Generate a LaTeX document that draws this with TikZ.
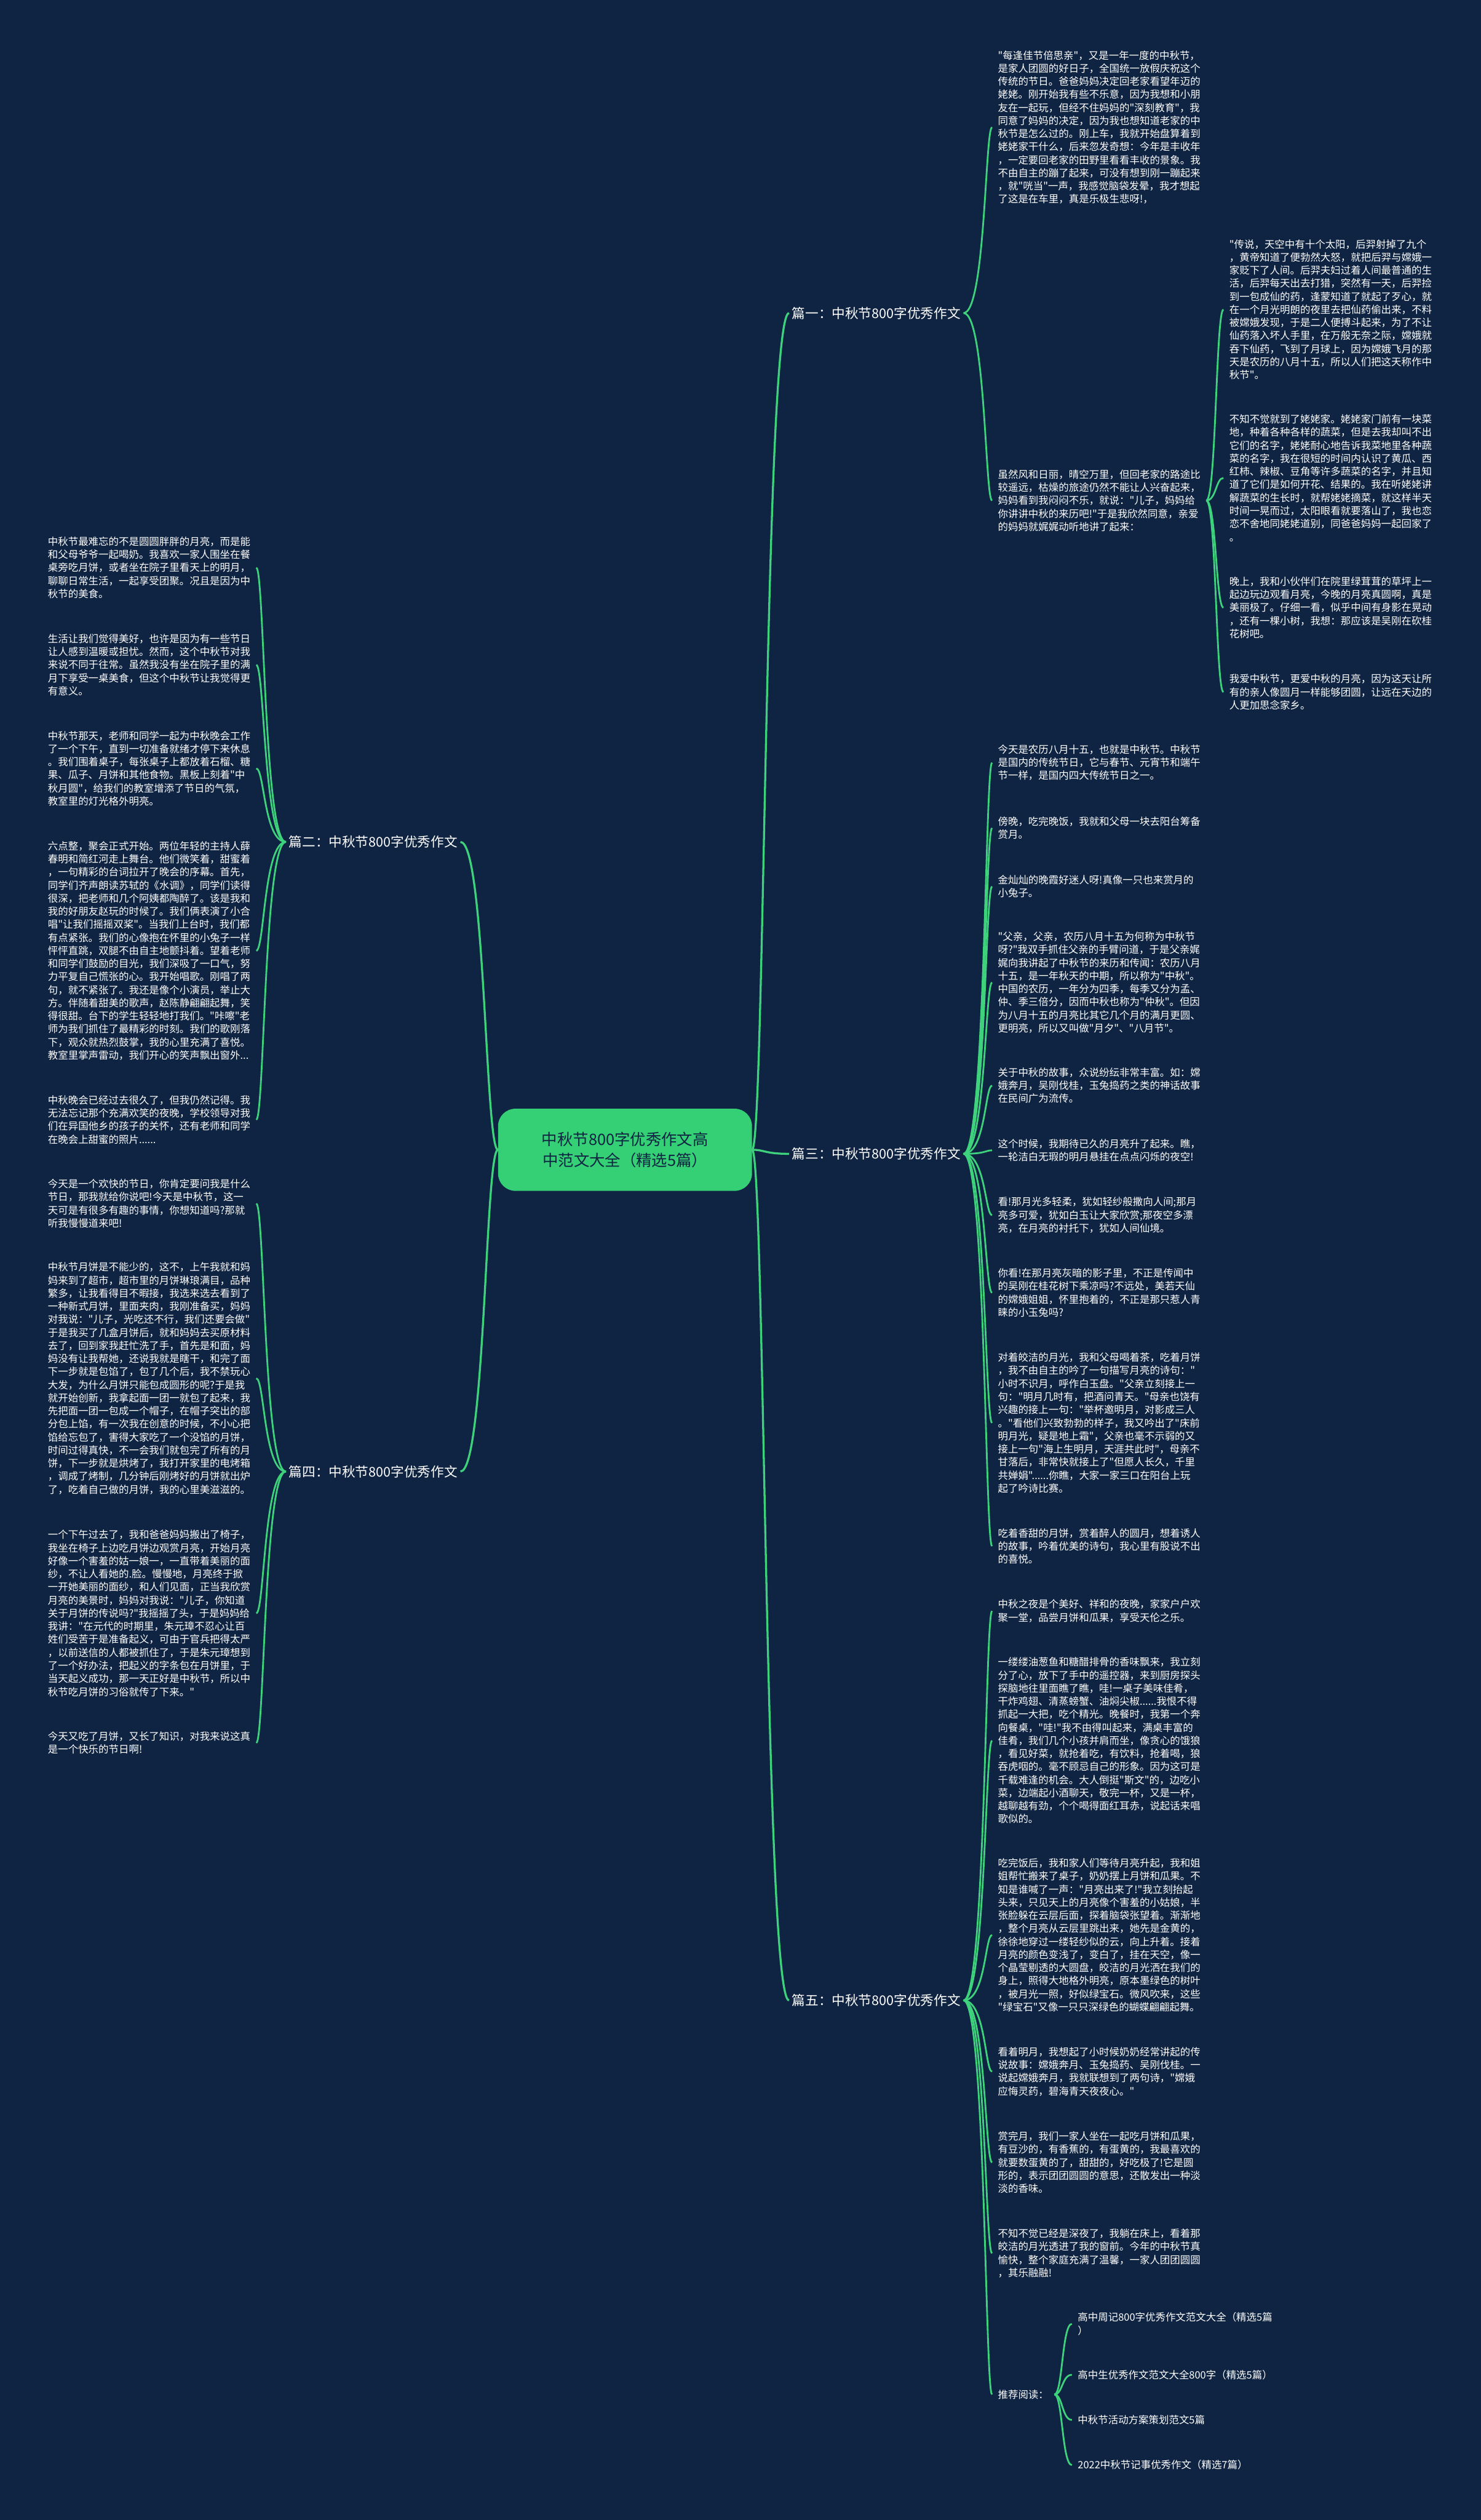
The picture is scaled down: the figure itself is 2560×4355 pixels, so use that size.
\documentclass[tikz,border=0pt]{standalone}
\usepackage{fontspec}
\newfontfamily\cjk{Noto Sans CJK SC}
\definecolor{bg}{HTML}{0F2442}
\definecolor{ln}{HTML}{3DD27B}
\definecolor{cfill}{HTML}{35CF75}
\tikzset{
  para/.style={align=left, text width=350pt, inner xsep=10pt, inner ysep=2pt, text=white, font=\cjk\fontsize{17.5}{22.6}\selectfont},
  rpara/.style={para, anchor=west},
  lpara/.style={para, anchor=east},
  lab/.style={text=white, font=\cjk\fontsize{23}{28}\selectfont, inner sep=5pt},
  small/.style={text=white, align=left, font=\cjk\fontsize{17.5}{24}\selectfont, inner xsep=10pt, inner ysep=2pt, anchor=west},
  link/.style={draw=ln, line width=3pt},
  thick link/.style={draw=ln, line width=3.5pt},
  root/.style={fill=cfill, rounded corners=30pt, text=bg, font=\cjk\fontsize{27}{36}\selectfont, align=center, minimum width=439pt, minimum height=142pt}
}
\newcommand\rconn[5][link]{\draw[#1] (#2.east) .. controls +(#4,0) and +(-#5,0) .. (#3.west);}
\newcommand\lconn[5][link]{\draw[#1] (#2.west) .. controls +(-#4,0) and +(#5,0) .. (#3.east);}
\begin{document}
\begin{tikzpicture}[x=1pt,y=-1pt]
\fill[bg] (0,0) rectangle (2560,4355);
\useasboundingbox (0,0) rectangle (2560,4355);

% root
\node[root] (root) at (1080.5,1987) {中秋节800字优秀作文高\\中范文大全（精选5篇）};

% level 1 labels
\node[lab, anchor=west] (b1) at (1364,541) {篇一：中秋节800字优秀作文};
\node[lab, anchor=east] (b2) at (796,1455) {篇二：中秋节800字优秀作文};
\node[lab, anchor=west] (b3) at (1364,1994) {篇三：中秋节800字优秀作文};
\node[lab, anchor=east] (b4) at (796,2543) {篇四：中秋节800字优秀作文};
\node[lab, anchor=west] (b5) at (1364,3457) {篇五：中秋节800字优秀作文};

\rconn[thick link]{root}{b1}{22}{42}
\rconn[thick link]{root}{b3}{22}{42}
\rconn[thick link]{root}{b5}{22}{42}
\lconn[thick link]{root}{b2}{22}{43}
\lconn[thick link]{root}{b4}{22}{43}

% ---------- branch 1
\node[rpara] (p1a) at (1715,220) {"每逢佳节倍思亲"，又是一年一度的中秋节，\\是家人团圆的好日子，全国统一放假庆祝这个\\传统的节日。爸爸妈妈决定回老家看望年迈的\\姥姥。刚开始我有些不乐意，因为我想和小朋\\友在一起玩，但经不住妈妈的"深刻教育"，我\\同意了妈妈的决定，因为我也想知道老家的中\\秋节是怎么过的。刚上车，我就开始盘算着到\\姥姥家干什么，后来忽发奇想：今年是丰收年\\，一定要回老家的田野里看看丰收的景象。我\\不由自主的蹦了起来，可没有想到刚一蹦起来\\，就"咣当"一声，我感觉脑袋发晕，我才想起\\了这是在车里，真是乐极生悲呀!，};
\node[rpara] (p1b) at (1715,865) {虽然风和日丽，晴空万里，但回老家的路途比\\较遥远，枯燥的旅途仍然不能让人兴奋起来，\\妈妈看到我闷闷不乐，就说："儿子，妈妈给\\你讲讲中秋的来历吧!"于是我欣然同意，亲爱\\的妈妈就娓娓动听地讲了起来：};
\rconn{b1}{p1a}{38}{12}
\rconn{b1}{p1b}{38}{12}

\node[rpara] (s1) at (2115,535) {"传说，天空中有十个太阳，后羿射掉了九个\\，黄帝知道了便勃然大怒，就把后羿与嫦娥一\\家贬下了人间。后羿夫妇过着人间最普通的生\\活，后羿每天出去打猎，突然有一天，后羿捡\\到一包成仙的药，逢蒙知道了就起了歹心，就\\在一个月光明朗的夜里去把仙药偷出来，不料\\被嫦娥发现，于是二人便搏斗起来，为了不让\\仙药落入坏人手里，在万般无奈之际，嫦娥就\\吞下仙药，飞到了月球上，因为嫦娥飞月的那\\天是农历的八月十五，所以人们把这天称作中\\秋节"。};
\node[rpara] (s2) at (2115,826) {不知不觉就到了姥姥家。姥姥家门前有一块菜\\地，种着各种各样的蔬菜，但是去我却叫不出\\它们的名字，姥姥耐心地告诉我菜地里各种蔬\\菜的名字，我在很短的时间内认识了黄瓜、西\\红柿、辣椒、豆角等许多蔬菜的名字，并且知\\道了它们是如何开花、结果的。我在听姥姥讲\\解蔬菜的生长时，就帮姥姥摘菜，就这样半天\\时间一晃而过，太阳眼看就要落山了，我也恋\\恋不舍地同姥姥道别，同爸爸妈妈一起回家了\\。};
\node[rpara] (s3) at (2115,1050) {晚上，我和小伙伴们在院里绿茸茸的草坪上一\\起边玩边观看月亮，今晚的月亮真圆啊，真是\\美丽极了。仔细一看，似乎中间有身影在晃动\\，还有一棵小树，我想：那应该是吴刚在砍桂\\花树吧。};
\node[rpara] (s4) at (2115,1196) {我爱中秋节，更爱中秋的月亮，因为这天让所\\有的亲人像圆月一样能够团圆，让远在天边的\\人更加思念家乡。};
\foreach \s in {s1,s2,s3,s4} {\rconn{p1b}{\s}{17}{13}}

% ---------- branch 2 (left)
\node[lpara] (l1) at (443,981) {中秋节最难忘的不是圆圆胖胖的月亮，而是能\\和父母爷爷一起喝奶。我喜欢一家人围坐在餐\\桌旁吃月饼，或者坐在院子里看天上的明月，\\聊聊日常生活，一起享受团聚。况且是因为中\\秋节的美食。};
\node[lpara] (l2) at (443,1149) {生活让我们觉得美好，也许是因为有一些节日\\让人感到温暖或担忧。然而，这个中秋节对我\\来说不同于往常。虽然我没有坐在院子里的满\\月下享受一桌美食，但这个中秋节让我觉得更\\有意义。};
\node[lpara] (l3) at (443,1328) {中秋节那天，老师和同学一起为中秋晚会工作\\了一个下午，直到一切准备就绪才停下来休息\\。我们围着桌子，每张桌子上都放着石榴、糖\\果、瓜子、月饼和其他食物。黑板上刻着"中\\秋月圆"，给我们的教室增添了节日的气氛，\\教室里的灯光格外明亮。};
\node[lpara] (l4) at (443,1643) {六点整，聚会正式开始。两位年轻的主持人薛\\春明和简红河走上舞台。他们微笑着，甜蜜着\\，一句精彩的台词拉开了晚会的序幕。首先，\\同学们齐声朗读苏轼的《水调》，同学们读得\\很深，把老师和几个阿姨都陶醉了。该是我和\\我的好朋友赵玩的时候了。我们俩表演了小合\\唱"让我们摇摇双桨"。当我们上台时，我们都\\有点紧张。我们的心像抱在怀里的小兔子一样\\怦怦直跳，双腿不由自主地颤抖着。望着老师\\和同学们鼓励的目光，我们深吸了一口气，努\\力平复自己慌张的心。我开始唱歌。刚唱了两\\句，就不紧张了。我还是像个小演员，举止大\\方。伴随着甜美的歌声，赵陈静翩翩起舞，笑\\得很甜。台下的学生轻轻地打我们。"咔嚓"老\\师为我们抓住了最精彩的时刻。我们的歌刚落\\下，观众就热烈鼓掌，我的心里充满了喜悦。\\教室里掌声雷动，我们开心的笑声飘出窗外...};
\node[lpara] (l5) at (443,1935) {中秋晚会已经过去很久了，但我仍然记得。我\\无法忘记那个充满欢笑的夜晚，学校领导对我\\们在异国他乡的孩子的关怀，还有老师和同学\\在晚会上甜蜜的照片......};
\foreach \s in {l1,l2,l3,l4,l5} {\lconn{b2}{\s}{38}{14}}

% ---------- branch 3
\node[rpara] (c1) at (1715,1318) {今天是农历八月十五，也就是中秋节。中秋节\\是国内的传统节日，它与春节、元宵节和端午\\节一样，是国内四大传统节日之一。};
\node[rpara] (c2) at (1715,1431) {傍晚，吃完晚饭，我就和父母一块去阳台筹备\\赏月。};
\node[rpara] (c3) at (1715,1532) {金灿灿的晚霞好迷人呀!真像一只也来赏月的\\小兔子。};
\node[rpara] (c4) at (1715,1698) {"父亲，父亲，农历八月十五为何称为中秋节\\呀?"我双手抓住父亲的手臂问道，于是父亲娓\\娓向我讲起了中秋节的来历和传闻：农历八月\\十五，是一年秋天的中期，所以称为"中秋"。\\中国的农历，一年分为四季，每季又分为孟、\\仲、季三倍分，因而中秋也称为"仲秋"。但因\\为八月十五的月亮比其它几个月的满月更圆、\\更明亮，所以又叫做"月夕"、"八月节"。};
\node[rpara] (c5) at (1715,1876) {关于中秋的故事，众说纷纭非常丰富。如：嫦\\娥奔月，吴刚伐桂，玉兔捣药之类的神话故事\\在民间广为流传。};
\node[rpara] (c6) at (1715,1988) {这个时候，我期待已久的月亮升了起来。瞧，\\一轮洁白无瑕的明月悬挂在点点闪烁的夜空!};
\node[rpara] (c7) at (1715,2100) {看!那月光多轻柔，犹如轻纱般撒向人间;那月\\亮多可爱，犹如白玉让大家欣赏;那夜空多漂\\亮，在月亮的衬托下，犹如人间仙境。};
\node[rpara] (c8) at (1715,2234) {你看!在那月亮灰暗的影子里，不正是传闻中\\的吴刚在桂花树下乘凉吗?不远处，美若天仙\\的嫦娥姐姐，怀里抱着的，不正是那只惹人青\\睐的小玉兔吗?};
\node[rpara] (c9) at (1715,2459) {对着皎洁的月光，我和父母喝着茶，吃着月饼\\，我不由自主的吟了一句描写月亮的诗句："\\小时不识月，呼作白玉盘。"父亲立刻接上一\\句："明月几时有，把酒问青天。"母亲也饶有\\兴趣的接上一句："举杯邀明月，对影成三人\\。"看他们兴致勃勃的样子，我又吟出了"床前\\明月光，疑是地上霜"，父亲也毫不示弱的又\\接上一句"海上生明月，天涯共此时"，母亲不\\甘落后，非常快就接上了"但愿人长久，千里\\共婵娟"......你瞧，大家一家三口在阳台上玩\\起了吟诗比赛。};
\node[rpara] (c10) at (1715,2672) {吃着香甜的月饼，赏着醉人的圆月，想着诱人\\的故事，吟着优美的诗句，我心里有股说不出\\的喜悦。};
\foreach \s in {c1,c2,c3,c4,c5,c6,c7,c8,c9,c10} {\rconn{b3}{\s}{38}{12}}

% ---------- branch 4 (left)
\node[lpara] (m1) at (443,2080) {今天是一个欢快的节日，你肯定要问我是什么\\节日，那我就给你说吧!今天是中秋节，这一\\天可是有很多有趣的事情，你想知道吗?那就\\听我慢慢道来吧!};
\node[lpara] (m2) at (443,2382) {中秋节月饼是不能少的，这不，上午我就和妈\\妈来到了超市，超市里的月饼琳琅满目，品种\\繁多，让我看得目不暇接，我选来选去看到了\\一种新式月饼，里面夹肉，我刚准备买，妈妈\\对我说："儿子，光吃还不行，我们还要会做"\\于是我买了几盒月饼后，就和妈妈去买原材料\\去了，回到家我赶忙洗了手，首先是和面，妈\\妈没有让我帮她，还说我就是瞎干，和完了面\\下一步就是包馅了，包了几个后，我不禁玩心\\大发，为什么月饼只能包成圆形的呢?于是我\\就开始创新，我拿起面一团一就包了起来，我\\先把面一团一包成一个帽子，在帽子突出的部\\分包上馅，有一次我在创意的时候，不小心把\\馅给忘包了，害得大家吃了一个没馅的月饼，\\时间过得真快，不一会我们就包完了所有的月\\饼，下一步就是烘烤了，我打开家里的电烤箱\\，调成了烤制，几分钟后刚烤好的月饼就出炉\\了，吃着自己做的月饼，我的心里美滋滋的。};
\node[lpara] (m3) at (443,2788) {一个下午过去了，我和爸爸妈妈搬出了椅子，\\我坐在椅子上边吃月饼边观赏月亮，开始月亮\\好像一个害羞的姑一娘一，一直带着美丽的面\\纱，不让人看她的.脸。慢慢地，月亮终于掀\\一开她美丽的面纱，和人们见面，正当我欣赏\\月亮的美景时，妈妈对我说："儿子，你知道\\关于月饼的传说吗?"我摇摇了头，于是妈妈给\\我讲："在元代的时期里，朱元璋不忍心让百\\姓们受苦于是准备起义，可由于官兵把得太严\\，以前送信的人都被抓住了，于是朱元璋想到\\了一个好办法，把起义的字条包在月饼里，于\\当天起义成功，那一天正好是中秋节，所以中\\秋节吃月饼的习俗就传了下来。"};
\node[lpara] (m4) at (443,3012) {今天又吃了月饼，又长了知识，对我来说这真\\是一个快乐的节日啊!};
\foreach \s in {m1,m2,m3,m4} {\lconn{b4}{\s}{38}{14}}

% ---------- branch 5
\node[rpara] (d1) at (1715,2784) {中秋之夜是个美好、祥和的夜晚，家家户户欢\\聚一堂，品尝月饼和瓜果，享受天伦之乐。};
\node[rpara] (d2) at (1715,3008) {一缕缕油葱鱼和糖醋排骨的香味飘来，我立刻\\分了心，放下了手中的遥控器，来到厨房探头\\探脑地往里面瞧了瞧，哇!一桌子美味佳肴，\\干炸鸡翅、清蒸螃蟹、油焖尖椒......我恨不得\\抓起一大把，吃个精光。晚餐时，我第一个奔\\向餐桌，"哇!"我不由得叫起来，满桌丰富的\\佳肴，我们几个小孩并肩而坐，像贪心的饿狼\\，看见好菜，就抢着吃，有饮料，抢着喝，狼\\吞虎咽的。毫不顾忌自己的形象。因为这可是\\千载难逢的机会。大人倒挺"斯文"的，边吃小\\菜，边端起小酒聊天，敬完一杯，又是一杯，\\越聊越有劲，个个喝得面红耳赤，说起话来唱\\歌似的。};
\node[rpara] (d3) at (1715,3344) {吃完饭后，我和家人们等待月亮升起，我和姐\\姐帮忙搬来了桌子，奶奶摆上月饼和瓜果。不\\知是谁喊了一声："月亮出来了!"我立刻抬起\\头来，只见天上的月亮像个害羞的小姑娘，半\\张脸躲在云层后面，探着脑袋张望着。渐渐地\\，整个月亮从云层里跳出来，她先是金黄的，\\徐徐地穿过一缕轻纱似的云，向上升着。接着\\月亮的颜色变浅了，变白了，挂在天空，像一\\个晶莹剔透的大圆盘，皎洁的月光洒在我们的\\身上，照得大地格外明亮，原本墨绿色的树叶\\，被月光一照，好似绿宝石。微风吹来，这些\\"绿宝石"又像一只只深绿色的蝴蝶翩翩起舞。};
\node[rpara] (d4) at (1715,3580) {看着明月，我想起了小时候奶奶经常讲起的传\\说故事：嫦娥奔月、玉兔捣药、吴刚伐桂。一\\说起嫦娥奔月，我就联想到了两句诗，"嫦娥\\应悔灵药，碧海青天夜夜心。"};
\node[rpara] (d5) at (1715,3737) {赏完月，我们一家人坐在一起吃月饼和瓜果，\\有豆沙的，有香蕉的，有蛋黄的，我最喜欢的\\就要数蛋黄的了，甜甜的，好吃极了!它是圆\\形的，表示团团圆圆的意思，还散发出一种淡\\淡的香味。};
\node[rpara] (d6) at (1715,3894) {不知不觉已经是深夜了，我躺在床上，看着那\\皎洁的月光透进了我的窗前。今年的中秋节真\\愉快，整个家庭充满了温馨，一家人团团圆圆\\，其乐融融!};
\node[small] (d7) at (1715,4138) {推荐阅读：};
\foreach \s in {d1,d2,d3,d4,d5,d6,d7} {\rconn{b5}{\s}{38}{12}}

\node[small] (r1) at (1853,4016) {高中周记800字优秀作文范文大全（精选5篇\\）};
\node[small] (r2) at (1853,4104) {高中生优秀作文范文大全800字（精选5篇）};
\node[small] (r3) at (1853,4182) {中秋节活动方案策划范文5篇};
\node[small] (r4) at (1853,4260) {2022中秋节记事优秀作文（精选7篇）};
\foreach \s in {r1,r2,r3,r4} {\rconn{d7}{\s}{14}{17}}

\end{tikzpicture}
\end{document}
